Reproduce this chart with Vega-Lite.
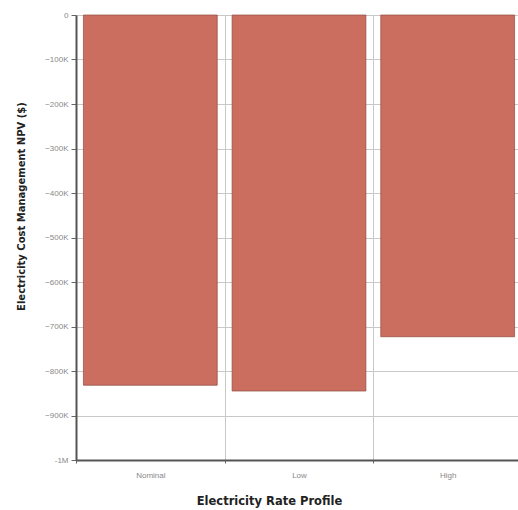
{
  "$schema": "https://vega.github.io/schema/vega-lite/v6.json",
  "autosize": "none",
  "width": 446,
  "height": 445,
  "padding": {"left": 76, "top": 15, "right": 0, "bottom": 50},
  "background": "white",
  "config": {"view": {"stroke": null}},
  "data": {
    "values": [
      {"profile": "Nominal", "npv": -832000},
      {"profile": "Low", "npv": -845000},
      {"profile": "High", "npv": -723000}
    ]
  },
  "mark": {"type": "bar", "color": "#cc6e5f", "stroke": "#8f4a3e", "strokeWidth": 1, "strokeOpacity": 0.7, "width": {"band": 0.9}},
  "encoding": {
    "x": {
      "field": "profile",
      "type": "nominal",
      "sort": ["Nominal", "Low", "High"],
      "scale": {"paddingInner": 0, "paddingOuter": 0},
      "axis": {
        "title": "Electricity Rate Profile",
        "titleFont": "DejaVu Sans",
        "titleFontSize": 11.5,
        "titleFontWeight": "bold",
        "titleColor": "#222",
        "titlePadding": 16,
        "titleX": 193,
        "labelAngle": 0,
        "labelFont": "Liberation Sans",
        "labelFontSize": 8,
        "labelColor": "#888",
        "labelPadding": 8,
        "tickBand": "extent",
        "grid": true,
        "gridColor": "#c8c8c8",
        "domainColor": "#555",
        "domainWidth": 2,
        "tickColor": "#666",
        "tickSize": 3
      }
    },
    "y": {
      "field": "npv",
      "type": "quantitative",
      "scale": {"domain": [-1000000, 0], "nice": false},
      "axis": {
        "title": "Electricity Cost Management NPV ($)",
        "titleFont": "DejaVu Sans",
        "titleFontSize": 10,
        "titleFontWeight": "bold",
        "titleColor": "#222",
        "titlePadding": 18,
        "titleY": 191,
        "values": [0, -100000, -200000, -300000, -400000, -500000, -600000, -700000, -800000, -900000, -1000000],
        "labelExpr": "datum.value == 0 ? '0' : (datum.value == -1000000 ? '-1M' : format(datum.value / 1000, 'd') + 'K')",
        "labelFont": "Liberation Sans",
        "labelFontSize": 8,
        "labelColor": "#888",
        "labelPadding": 3,
        "grid": true,
        "gridColor": "#c8c8c8",
        "domainColor": "#555",
        "domainWidth": 2,
        "tickColor": "#666",
        "tickSize": 5
      }
    }
  }
}
